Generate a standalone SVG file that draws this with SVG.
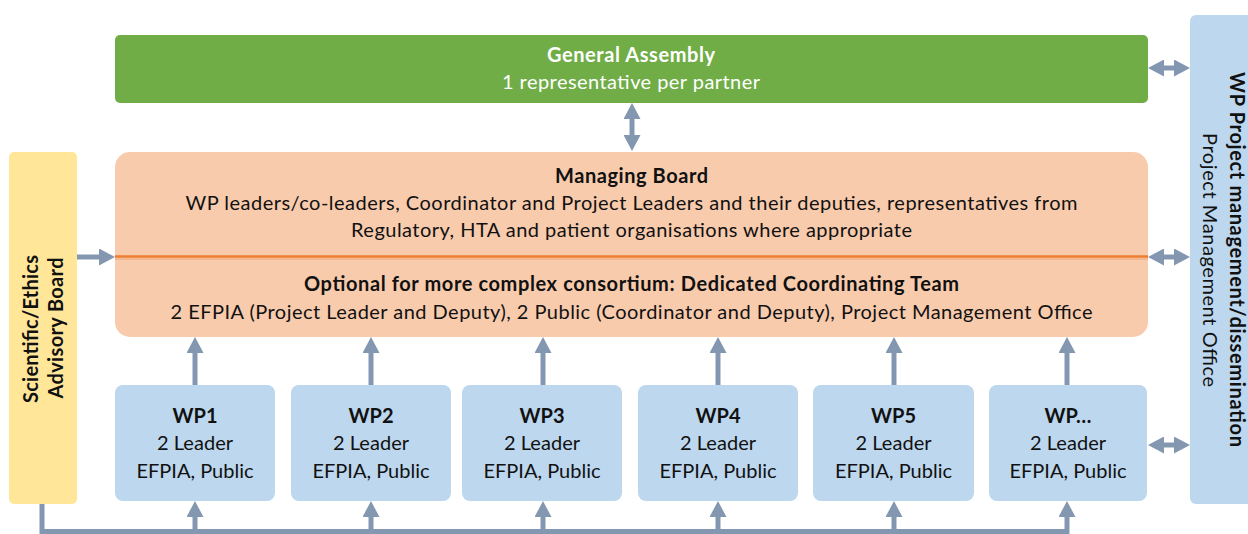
<svg xmlns="http://www.w3.org/2000/svg" width="1248" height="534" viewBox="0 0 1248 534">
  <defs>
    <style>
      text { font-family: Lato, "Open Sans", "Liberation Sans", sans-serif; font-size: 20px; fill: #111; text-anchor: middle; }
      .b { font-weight: bold; }
      .w { fill: #ffffff; }
      .ga { fill: #70AD47; }
      .mb { fill: #F8CBAD; }
      .wp { fill: #BDD7EE; }
      .side-y { fill: #FFE699; }
      .side-b { fill: #BDD7EE; }
      .conn { stroke: #8497B0; stroke-width: 5; fill: none; }
      .arr { marker-end: url(#ah); }
      .darr { marker-start: url(#ah); marker-end: url(#ah); }
    </style>
    <marker id="ah" viewBox="0 0 16 17" refX="3" refY="8.5" markerWidth="16" markerHeight="17" markerUnits="userSpaceOnUse" orient="auto-start-reverse">
      <path d="M0,0 L16,8.5 L0,17 Z" fill="#8497B0"/>
    </marker>
  </defs>

  <g id="connectors">
    <!-- GA <-> MB -->
    <line class="conn darr" x1="632" y1="116" x2="632" y2="138"/>
    <!-- Advisory board -> MB -->
    <line class="conn arr" x1="77" y1="257" x2="102" y2="257"/>
    <!-- Right side double arrows -->
    <line class="conn darr" x1="1161" y1="68" x2="1177" y2="68"/>
    <line class="conn darr" x1="1161" y1="257" x2="1177" y2="257"/>
    <line class="conn darr" x1="1161" y1="445" x2="1177" y2="445"/>
    <!-- WP -> MB -->
    <line class="conn arr" x1="195" y1="385" x2="195" y2="350"/>
    <line class="conn arr" x1="371" y1="385" x2="371" y2="350"/>
    <line class="conn arr" x1="543" y1="385" x2="543" y2="350"/>
    <line class="conn arr" x1="718" y1="385" x2="718" y2="350"/>
    <line class="conn arr" x1="894" y1="385" x2="894" y2="350"/>
    <line class="conn arr" x1="1067" y1="385" x2="1067" y2="350"/>
    <!-- Bottom bus from advisory board to WPs -->
    <path class="conn" d="M42,504 L42,531.5 L1067,531.5"/>
    <line class="conn arr" x1="195" y1="534" x2="195" y2="514"/>
    <line class="conn arr" x1="371" y1="534" x2="371" y2="514"/>
    <line class="conn arr" x1="543" y1="534" x2="543" y2="514"/>
    <line class="conn arr" x1="718" y1="534" x2="718" y2="514"/>
    <line class="conn arr" x1="894" y1="534" x2="894" y2="514"/>
    <line class="conn arr" x1="1067" y1="534" x2="1067" y2="514"/>
  </g>

  <g id="general-assembly">
    <rect class="ga" x="115" y="35" width="1033" height="68" rx="5"/>
    <text class="b w" x="631" y="62" textLength="168">General Assembly</text>
    <text class="w" x="631" y="89" textLength="258">1 representative per partner</text>
  </g>

  <g id="managing-board">
    <rect class="mb" x="115" y="152" width="1033" height="185" rx="15"/>
    <line x1="115" y1="256.5" x2="1148" y2="256.5" stroke="#ED7D31" stroke-width="2.5"/>
    <line x1="115" y1="259" x2="1148" y2="259" stroke="#F4B183" stroke-width="1.5"/>
    <text class="b" x="631.5" y="183" textLength="153">Managing Board</text>
    <text x="631.5" y="210" textLength="892">WP leaders/co-leaders, Coordinator and Project Leaders and their deputies, representatives from</text>
    <text x="631.5" y="237" textLength="561">Regulatory, HTA and patient organisations where appropriate</text>
    <text class="b" x="631.5" y="291" textLength="655">Optional for more complex consortium: Dedicated Coordinating Team</text>
    <text x="631.5" y="319" textLength="922">2 EFPIA (Project Leader and Deputy), 2 Public (Coordinator and Deputy), Project Management Office</text>
  </g>

  <g id="advisory-board">
    <rect class="side-y" x="9" y="152" width="68" height="352" rx="5"/>
    <text class="b" transform="translate(38,329) rotate(-90)" textLength="148">Scientific/Ethics</text>
    <text class="b" transform="translate(63,328) rotate(-90)" textLength="141">Advisory Board</text>
  </g>

  <g id="project-management">
    <rect class="side-b" x="1190" y="15" width="70" height="489" rx="6"/>
    <text class="b" transform="translate(1230,259.5) rotate(90)" textLength="375">WP Project management/dissemination</text>
    <text transform="translate(1203,260) rotate(90)" textLength="254">Project Management Office</text>
  </g>

  <g id="wp1">
    <rect class="wp" x="115" y="385" width="160" height="116" rx="8"/>
    <text class="b" x="195" y="423">WP1</text>
    <text x="195" y="450" textLength="76">2 Leader</text>
    <text x="195" y="478" textLength="117">EFPIA, Public</text>
  </g>
  <g id="wp2">
    <rect class="wp" x="291" y="385" width="160" height="116" rx="8"/>
    <text class="b" x="371" y="423">WP2</text>
    <text x="371" y="450" textLength="76">2 Leader</text>
    <text x="371" y="478" textLength="117">EFPIA, Public</text>
  </g>
  <g id="wp3">
    <rect class="wp" x="462" y="385" width="160" height="116" rx="8"/>
    <text class="b" x="542" y="423">WP3</text>
    <text x="542" y="450" textLength="76">2 Leader</text>
    <text x="542" y="478" textLength="117">EFPIA, Public</text>
  </g>
  <g id="wp4">
    <rect class="wp" x="638" y="385" width="160" height="116" rx="8"/>
    <text class="b" x="718" y="423">WP4</text>
    <text x="718" y="450" textLength="76">2 Leader</text>
    <text x="718" y="478" textLength="117">EFPIA, Public</text>
  </g>
  <g id="wp5">
    <rect class="wp" x="813" y="385" width="161" height="116" rx="8"/>
    <text class="b" x="893.5" y="423">WP5</text>
    <text x="893.5" y="450" textLength="76">2 Leader</text>
    <text x="893.5" y="478" textLength="117">EFPIA, Public</text>
  </g>
  <g id="wp6">
    <rect class="wp" x="989" y="385" width="158" height="116" rx="8"/>
    <text class="b" x="1068" y="423">WP…</text>
    <text x="1068" y="450" textLength="76">2 Leader</text>
    <text x="1068" y="478" textLength="117">EFPIA, Public</text>
  </g>
</svg>
